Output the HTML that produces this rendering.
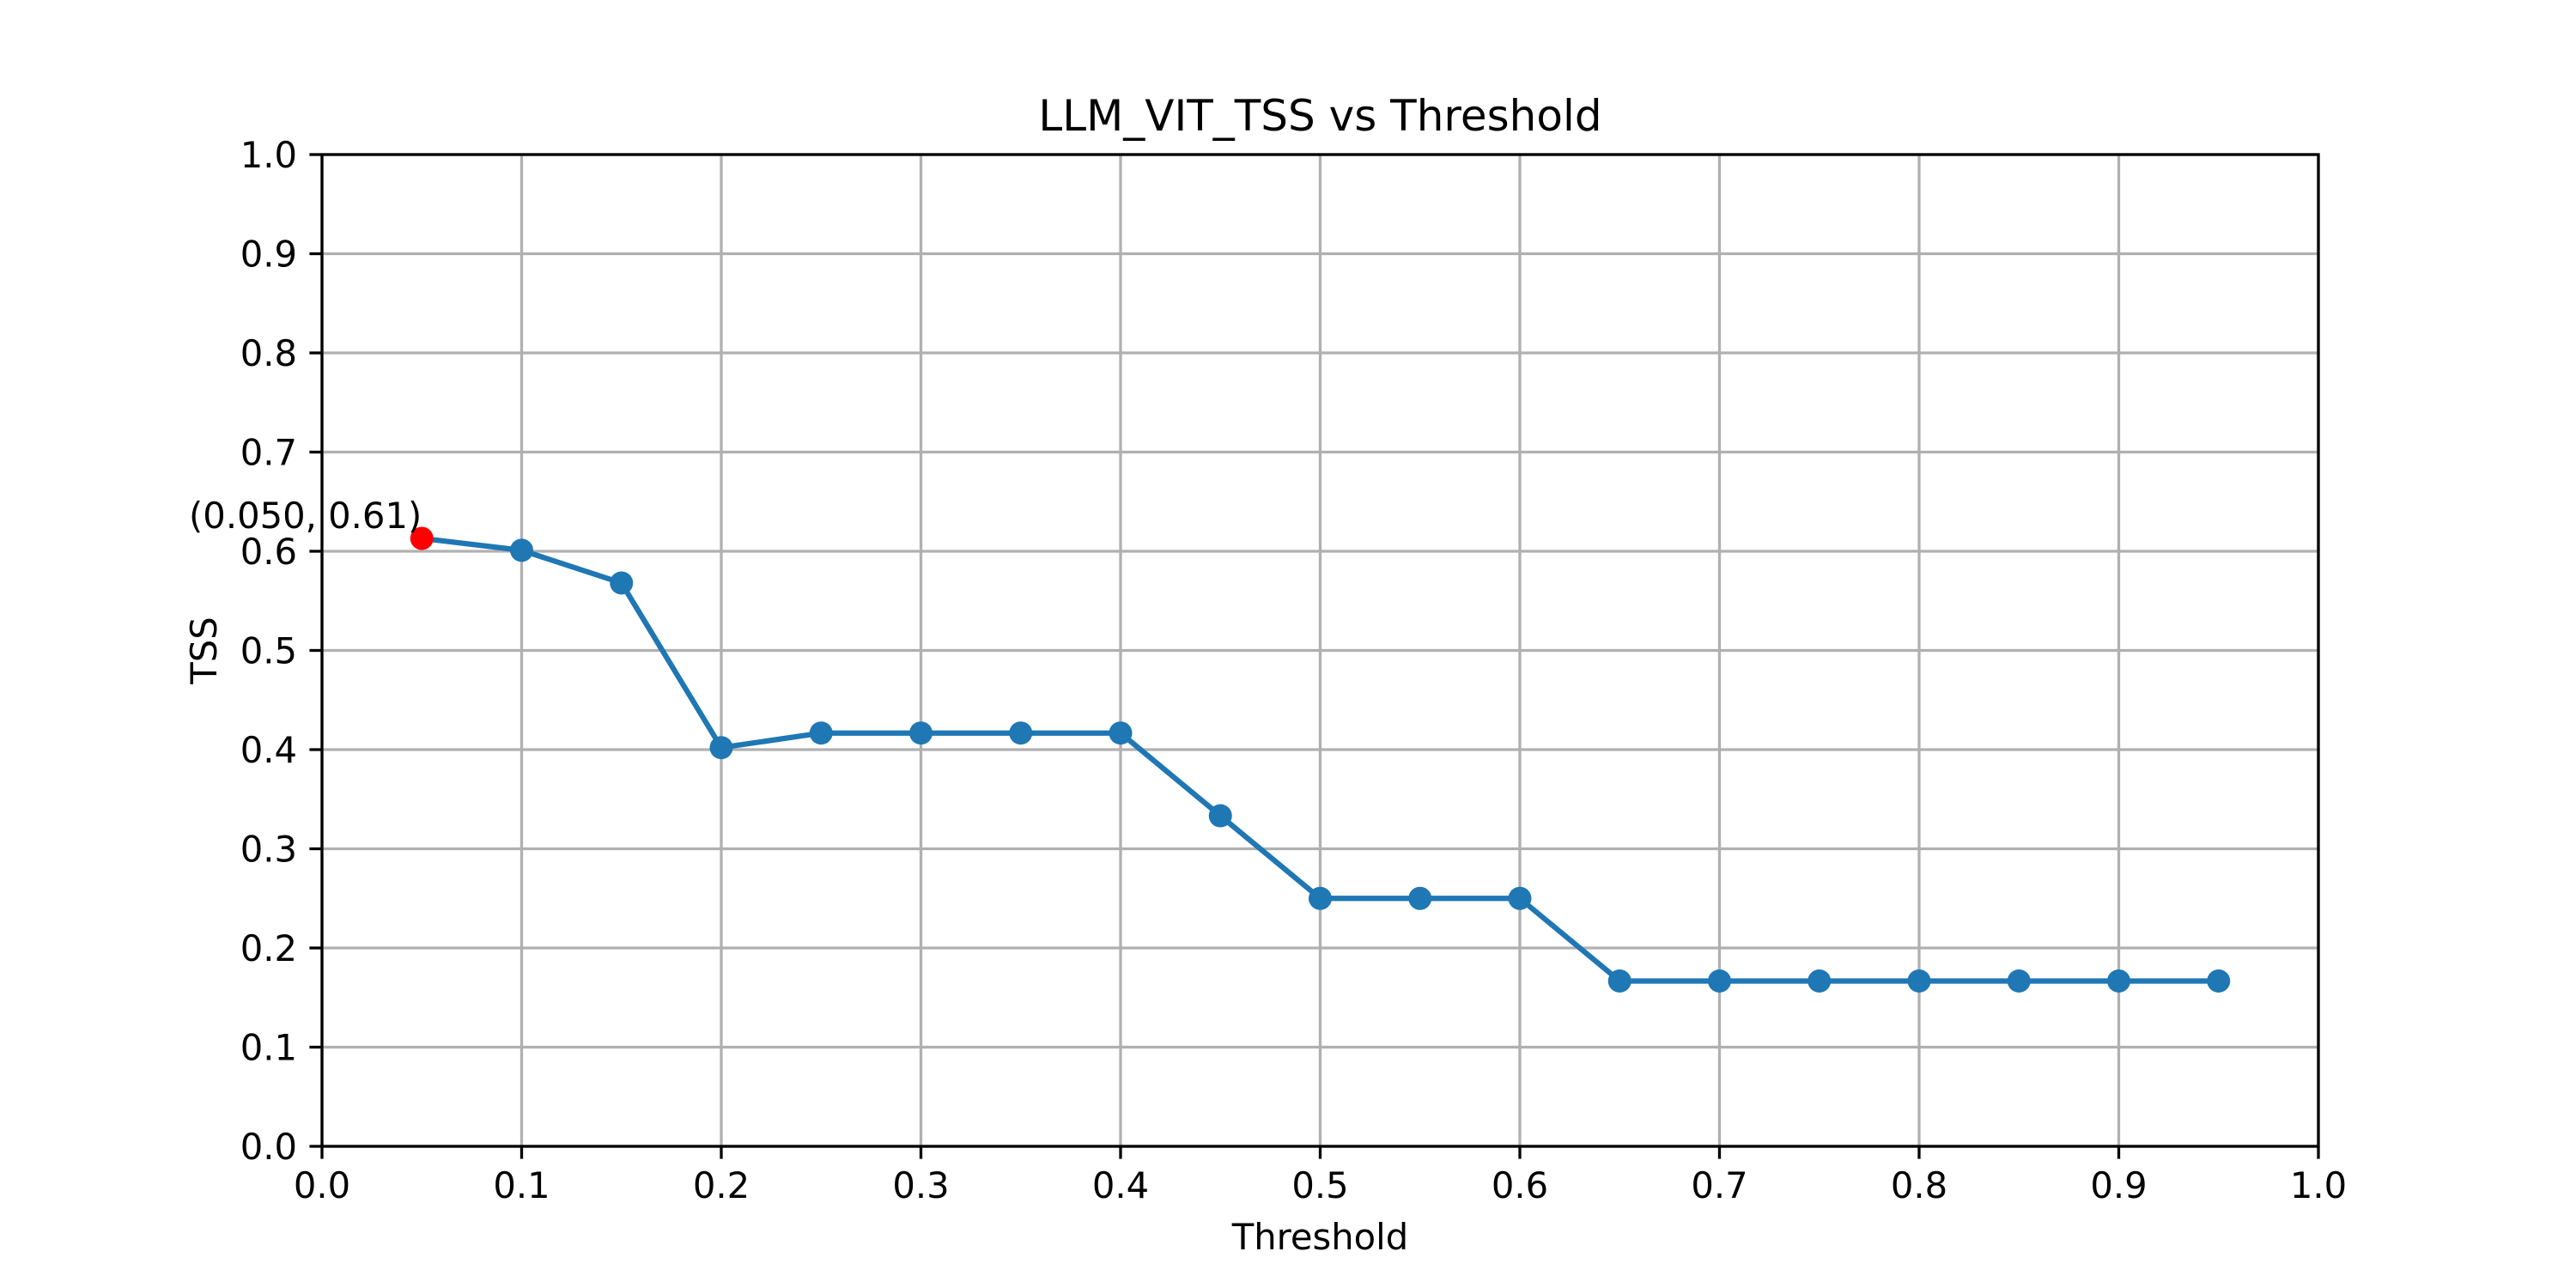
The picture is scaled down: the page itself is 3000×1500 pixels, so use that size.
<!DOCTYPE html>
<html><head><meta charset="utf-8"><style>
html,body{margin:0;padding:0;background:#fff;}
svg{display:block;font-family:"DejaVu Sans","Liberation Sans",sans-serif;}
</style></head><body>
<svg id="chart" width="3000" height="1500" viewBox="0 0 3000 1500" xmlns="http://www.w3.org/2000/svg">
<rect width="3000" height="1500" fill="#fff"/>
<g id="grid"></g>
<g id="axes"></g>
<g id="series"></g>
<g id="labels"></g>
</svg>
<script>
const thresholds = [0.05,0.1,0.15,0.2,0.25,0.3,0.35,0.4,0.45,0.5,0.55,0.6,0.65,0.7,0.75,0.8,0.85,0.9,0.95];
const tssValues = [0.613,0.601,0.568,0.402,0.4167,0.4167,0.4167,0.4167,0.3333,0.25,0.25,0.25,0.1667,0.1667,0.1667,0.1667,0.1667,0.1667,0.1667];
const xTicks = [0,0.1,0.2,0.3,0.4,0.5,0.6,0.7,0.8,0.9,1.0];
const yTicks = [0,0.1,0.2,0.3,0.4,0.5,0.6,0.7,0.8,0.9,1.0];
const bestIndex = 0;

const L=375,R=2700,T=180,B=1335;
const xs=v=>L+(R-L)*v;
const ys=v=>B-(B-T)*v;
const NS="http://www.w3.org/2000/svg";
function mk(tag,attrs,parent){const e=document.createElementNS(NS,tag);for(const k in attrs)e.setAttribute(k,attrs[k]);document.getElementById(parent).appendChild(e);return e;}

xTicks.forEach((t,i)=>{
  const g=mk('line',{x1:xs(t),x2:xs(t),y1:T,y2:B,stroke:'#b0b0b0','stroke-width':3.3},'grid');
  
  
  mk('line',{x1:xs(t),x2:xs(t),y1:B,y2:B+14.6,stroke:'#000','stroke-width':3.3},'axes');
  const tx=mk('text',{x:xs(t),y:B+60,'font-size':41.7,'text-anchor':'middle',fill:'#000'},'labels');
  tx.textContent=t.toFixed(1);
  
  
});
yTicks.forEach((t,i)=>{
  const g=mk('line',{x1:L,x2:R,y1:ys(t),y2:ys(t),stroke:'#b0b0b0','stroke-width':3.3},'grid');
  
  
  mk('line',{x1:L-14.6,x2:L,y1:ys(t),y2:ys(t),stroke:'#000','stroke-width':3.3},'axes');
  const tx=mk('text',{x:L-29,y:ys(t)+15,'font-size':41.7,'text-anchor':'end',fill:'#000'},'labels');
  tx.textContent=t.toFixed(1);
  
  
});
const frame=mk('rect',{x:L,y:T,width:R-L,height:B-T,fill:'none',stroke:'#000','stroke-width':3.3},'axes');



const pts=thresholds.map((t,i)=>xs(t)+','+ys(tssValues[i])).join(' ');
const line=mk('polyline',{points:pts,fill:'none',stroke:'#1f77b4','stroke-width':6.25,'stroke-linejoin':'round','stroke-linecap':'square'},'series');


thresholds.forEach((t,i)=>{
  const c=mk('circle',{cx:xs(t),cy:ys(tssValues[i]),r:13.5,fill:i===bestIndex?'#ff0000':'#1f77b4'},'series');
  
  
});
const ann=mk('text',{x:xs(thresholds[bestIndex]),y:ys(tssValues[bestIndex])-12,'font-size':41.7,'text-anchor':'end',fill:'#000'},'labels');
ann.textContent='('+thresholds[bestIndex].toFixed(3)+', '+tssValues[bestIndex].toFixed(2)+')';



const title=mk('text',{x:(L+R)/2,y:152,'font-size':50,'text-anchor':'middle',fill:'#000'},'labels');
title.textContent='LLM_VIT_TSS vs Threshold';


const xl=mk('text',{x:(L+R)/2,y:1455,'font-size':41.7,'text-anchor':'middle',fill:'#000'},'labels');
xl.textContent='Threshold';


const yl=mk('text',{x:0,y:0,'font-size':41.7,'text-anchor':'middle',fill:'#000',transform:'translate(252,'+((T+B)/2)+') rotate(-90)'},'labels');
yl.textContent='TSS';


</script>
</body></html>
